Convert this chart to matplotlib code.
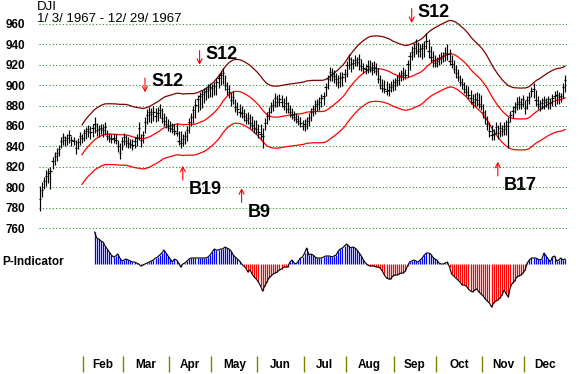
import numpy as np
import pandas as pd
import matplotlib
matplotlib.use('Agg')
import matplotlib.pyplot as plt

# DJI daily bars, 1/3/1967 .. 12/29/1967 (trading day index 0..250)
highs = [
    801, 805, 810, 817, 819, 820, 830, 835, 838, 841,
    849, 853, 850, 852, 856, 850, 849, 846, 848, 854,
    852, 857, 859, 861, 860, 862, 869, 863, 861, 862,
    862, 864, 856, 853, 852, 852, 852, 846, 843, 849,
    853, 851, 849, 847, 847, 849, 852, 864, 852, 855,
    869, 877, 879, 878, 880, 878, 879, 882, 878, 873,
    870, 867, 865, 863, 862, 863, 855, 855, 852, 855,
    860, 868, 873, 880, 886, 890, 893, 895, 897, 898,
    901, 902, 901, 903, 907, 911, 914, 917, 910, 903,
    900, 893, 894, 886, 884, 882, 880, 877, 873, 874,
    872, 870, 866, 866, 862, 862, 858, 868, 874, 879,
    884, 886, 892, 890, 891, 890, 887, 889, 884, 881,
    878, 875, 873, 871, 869, 866, 867, 869, 873, 878,
    881, 885, 886, 888, 891, 893, 902, 910, 918, 917,
    915, 912, 910, 913, 913, 916, 924, 931, 928, 926,
    930, 928, 931, 926, 922, 921, 925, 925, 923, 924,
    922, 917, 910, 906, 905, 904, 902, 904, 906, 907,
    910, 913, 915, 918, 916, 925, 933, 938, 941, 945,
    942, 940, 941, 943, 951, 945, 938, 934, 930, 928,
    931, 933, 933, 937, 940, 935, 930, 925, 920, 916,
    910, 907, 903, 900, 899, 895, 891, 892, 893, 892,
    890, 882, 876, 870, 864, 861, 857, 864, 861, 864,
    861, 864, 866, 869, 875, 880, 884, 888, 889, 887,
    890, 885, 889, 893, 898, 902, 895, 889, 885, 887,
    889, 887, 889, 887, 891, 894, 895, 893, 892, 902,
    910,
]
lows = [
    777, 790, 798, 801, 804, 798, 818, 822, 826, 831,
    838, 841, 840, 841, 843, 840, 841, 833, 837, 841,
    843, 845, 847, 849, 847, 849, 853, 850, 849, 852,
    849, 851, 846, 844, 843, 843, 842, 835, 828, 836,
    841, 839, 838, 838, 836, 838, 840, 846, 839, 843,
    853, 862, 864, 863, 865, 864, 865, 868, 863, 860,
    858, 855, 854, 853, 851, 850, 841, 838, 840, 842,
    845, 853, 860, 863, 868, 874, 876, 878, 883, 885,
    887, 888, 888, 890, 890, 897, 900, 901, 895, 890,
    887, 880, 882, 874, 871, 869, 868, 865, 862, 862,
    858, 856, 853, 852, 848, 846, 838, 856, 862, 866,
    873, 875, 879, 879, 880, 879, 876, 873, 873, 869,
    867, 865, 863, 861, 859, 856, 855, 857, 860, 865,
    870, 872, 875, 876, 879, 881, 889, 896, 904, 904,
    902, 899, 897, 898, 899, 903, 908, 916, 913, 916,
    919, 919, 915, 914, 912, 911, 912, 913, 910, 912,
    910, 902, 896, 893, 892, 890, 889, 893, 894, 895,
    899, 900, 904, 905, 906, 908, 915, 925, 928, 931,
    928, 928, 926, 928, 935, 927, 923, 918, 918, 918,
    920, 921, 923, 924, 925, 920, 917, 912, 907, 904,
    899, 896, 892, 889, 886, 882, 878, 880, 880, 878,
    876, 868, 862, 856, 849, 846, 846, 852, 847, 849,
    850, 851, 851, 838, 864, 868, 873, 876, 877, 877,
    879, 872, 877, 882, 888, 887, 880, 877, 875, 877,
    877, 879, 877, 877, 880, 880, 882, 882, 884, 887,
    893,
]
closes = [
    788, 797, 806, 811, 814, 816, 826, 831, 834, 837,
    845, 849, 846, 848, 851, 846, 845, 838, 844, 850,
    848, 853, 855, 857, 854, 858, 862, 856, 857, 858,
    856, 859, 850, 848, 847, 848, 846, 840, 834, 845,
    849, 845, 843, 842, 841, 845, 848, 858, 846, 851,
    864, 871, 874, 872, 874, 870, 873, 876, 868, 865,
    862, 860, 858, 857, 855, 853, 845, 843, 847, 850,
    856, 864, 869, 876, 881, 886, 889, 891, 893, 894,
    896, 898, 897, 899, 903, 907, 910, 912, 900, 896,
    893, 885, 888, 879, 877, 874, 873, 870, 866, 868,
    863, 861, 858, 857, 854, 852, 850, 863, 870, 874,
    880, 881, 887, 884, 886, 884, 880, 883, 877, 874,
    871, 869, 867, 865, 863, 860, 862, 865, 868, 874,
    877, 880, 882, 884, 887, 889, 898, 906, 913, 911,
    909, 906, 903, 907, 908, 911, 920, 926, 921, 922,
    925, 923, 926, 919, 917, 916, 919, 918, 915, 918,
    914, 906, 900, 897, 896, 894, 895, 898, 900, 903,
    905, 908, 910, 912, 910, 921, 929, 933, 936, 940,
    934, 935, 936, 938, 943, 934, 928, 925, 922, 924,
    926, 927, 929, 932, 931, 924, 921, 916, 912, 908,
    903, 901, 896, 893, 890, 887, 884, 886, 885, 882,
    880, 874, 868, 862, 855, 851, 852, 859, 853, 858,
    855, 857, 860, 864, 871, 875, 879, 882, 884, 882,
    886, 878, 885, 888, 894, 896, 885, 882, 880, 883,
    885, 884, 886, 883, 887, 889, 890, 888, 889, 898,
    905,
]

# P-Indicator, from trading day 26 to the end
p_start_day = 26
p_values = [
    32, 26, 25, 23, 22, 18, 15, 12, 9, 7,
    8, 10, 6, 3, 4, 5, 4, 3, 2, 2,
    1, 0, -2, -1, 0, 1, 2, 3, 4, 6,
    7, 9, 11, 14, 11, 8, 5, 2, 5, 4,
    1, -3, 0, 1, 3, 5, 6, 6, 6, 6,
    6, 6, 6, 6, 7, 9, 12, 15, 14, 14,
    15, 15, 17, 16, 15, 13, 9, 7, 5, 3,
    0, -2, -4, -8, -6, -10, -13, -15, -18, -22,
    -27, -22, -18, -14, -12, -10, -9, -8, -6, -5,
    -3, -3, -3, 2, 4, 1, 0, 3, 6, 7,
    11, 16, 9, 10, 9, 7, 6, 6, 6, 7,
    8, 8, 8, 7, 8, 9, 13, 15, 16, 18,
    20, 18, 16, 17, 16, 14, 11, 8, 4, 1,
    -1, -2, -2, -2, -3, -3, -4, -7, -11, -14,
    -15, -15, -12, -11, -11, -10, -9, -9, -7, -2,
    2, 3, 4, 3, 2, 4, 6, 9, 11, 11,
    10, 7, 5, 4, 1, 0, 0, 1, 2, -3,
    -10, -12, -14, -16, -18, -21, -21, -22, -25, -27,
    -28, -26, -25, -28, -30, -32, -35, -37, -39, -43,
    -39, -37, -36, -34, -31, -26, -30, -33, -23, -19,
    -17, -13, -12, -11, -9, -6, 1, 4, 6, 6,
    6, 5, 4, 5, 11, 8, 5, 2, 7, 8,
    3, 4, 6, 4, 5,
]

month_names = ['Feb', 'Mar', 'Apr', 'May', 'Jun', 'Jul', 'Aug', 'Sep', 'Oct', 'Nov', 'Dec']
month_start_days = [21, 40, 62, 82, 104, 126, 146, 169, 189, 211, 231]

signal_labels = ['S12', 'S12', 'S12', 'B19', 'B9', 'B17']
signal_days = [50, 76, 177, 68, 96, 218]

# band settings (21-day average, +/- 3.5%)
ma_window = 21
band_pct = 0.035

# ---- layout in pixels ----
W, H = 584, 374
plt.rcParams['font.family'] = ['Liberation Sans', 'DejaVu Sans']
fig = plt.figure(figsize=(W / 100, H / 100), dpi=100)


def px_axes(left, top, right, bottom):
    ax = fig.add_axes([left / W, 1 - bottom / H, (right - left) / W, (bottom - top) / H])
    ax.set_facecolor('none')
    for s in ax.spines.values():
        s.set_visible(False)
    return ax


days = np.arange(len(closes))
xlim = (-0.476, 250.95)

# price panel
ax = px_axes(39, 14, 567, 238)
ax.set_xlim(*xlim)
ax.set_ylim(750.2, 969.8)
for v in range(760, 961, 20):
    ax.axhline(v, color='#1a8a1a', lw=0.75, linestyle=(0, (1, 2.2)), zorder=0)
ax.set_yticks(range(760, 961, 20))
ax.set_yticklabels([str(v) for v in range(760, 961, 20)], fontweight='bold', fontsize=8.5)
ax.tick_params(axis='y', length=0, pad=10)
ax.set_xticks([])

ax.vlines(days, lows, highs, color='black', lw=0.85, zorder=3)
ax.hlines(closes, days - 0.55, days + 0.55, color='black', lw=0.85, zorder=3)

mid = pd.Series(closes, dtype=float).rolling(ma_window).mean()
ax.plot(days, mid * (1 + band_pct), color='#800000', lw=0.9, zorder=2)
ax.plot(days, mid, color='red', lw=0.9, zorder=2)
ax.plot(days, mid * (1 - band_pct), color='red', lw=0.9, zorder=2)

# signal arrows (tip price where each arrow points)
arrow_tips = [893, 920, 961, 821, 799, 825]
for lab, d, tip in zip(signal_labels, signal_days, arrow_tips):
    sell = lab.startswith('S')
    tail = tip + 14 if sell else tip - 14
    ax.annotate('', xy=(d, tip), xytext=(d, tail), annotation_clip=False,
                arrowprops=dict(arrowstyle='->,head_length=0.35,head_width=0.18',
                                color='red', lw=0.8, shrinkA=0, shrinkB=0))
    ty = tip + 6 if sell else tip - 28
    ax.text(d + 2.9, ty, lab, fontsize=13, fontweight='bold', va='baseline', ha='left')

# P-Indicator panel
pax = px_axes(39, 226, 567, 312)
pax.set_xlim(*xlim)
pax.set_ylim(-48, 38)
pax.set_xticks([])
pax.set_yticks([])
p = np.array(p_values, dtype=float)
pdays = np.arange(p_start_day, p_start_day + len(p))
pos = p > 0
pax.vlines(pdays[pos], 0, p[pos], color='#0000ff', lw=0.9)
pax.vlines(pdays[~pos], 0, p[~pos], color='#ff0000', lw=0.9)
pax.plot(pdays, p, color='black', lw=0.8)
fig.text(2 / W, 1 - 262 / H, 'P-Indicator', fontsize=8.5, fontweight='bold', va='center', ha='left')

# month strip
max_ = px_axes(39, 352, 567, 374)
max_.set_xlim(*xlim)
max_.set_ylim(0, 1)
max_.set_xticks([])
max_.set_yticks([])
bounds = [d - 0.5 for d in month_start_days] + [len(closes) - 0.5]
max_.vlines(bounds[:-1], 0.09, 0.82, color='#808000', lw=1.0)
for name, a, b in zip(month_names, bounds[:-1], bounds[1:]):
    max_.text((a + b) / 2, 0.4, name, ha='center', va='center', fontsize=8.5, fontweight='bold')

# header
fig.text(37 / W, 1 - 10 / H, 'DJI', fontsize=9.5, va='baseline', ha='left')
fig.text(37 / W, 1 - 22 / H, '1/ 3/ 1967 - 12/ 29/ 1967', fontsize=9.5, va='baseline', ha='left')

fig.savefig('out.png', dpi=100)
